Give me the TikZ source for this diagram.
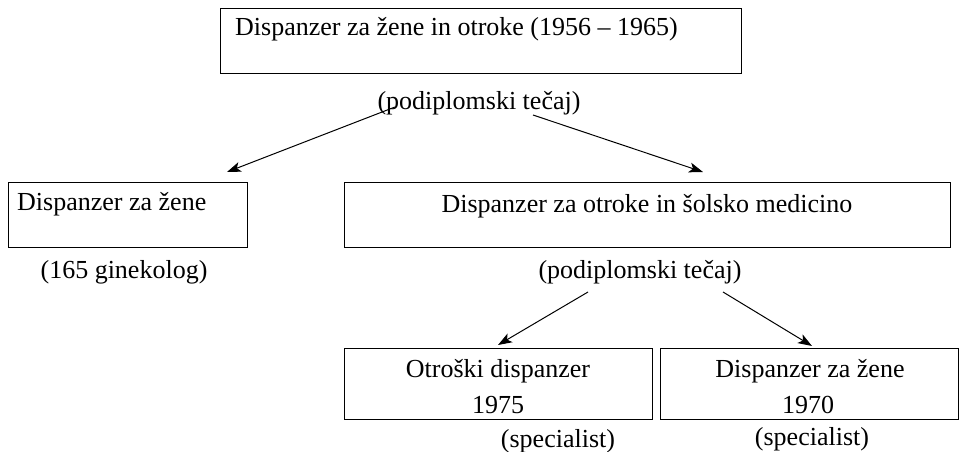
\documentclass[tikz,border=0pt]{standalone}
\usepackage{fontspec}
\setmainfont{Liberation Serif}
\usetikzlibrary{arrows.meta,calc}
\tikzset{
  box/.style={draw=black, line width=0.8pt, inner sep=0pt, anchor=north west},
  txt/.style={inner sep=0pt, font=\fontsize{26}{30}\selectfont},
  arr/.style={line width=1pt, -{Stealth[length=14pt,width=10pt,inset=3.5pt]}}
}
\begin{document}
\begin{tikzpicture}[x=1pt,y=1pt]
\useasboundingbox (0,0) rectangle (959,-452);
% boxes
\node[box, minimum width=521pt, minimum height=65pt] (topbox) at (220,-8) {};
\node[box, minimum width=239pt, minimum height=65pt] (leftbox) at (8,-182) {};
\node[box, minimum width=606pt, minimum height=65pt] (midbox) at (344,-182) {};
\node[box, minimum width=308pt, minimum height=71pt] (blbox) at (344,-348) {};
\node[box, minimum width=298pt, minimum height=71pt] (brbox) at (660,-348) {};
% texts
\node[txt, anchor=base west] (toptxt) at (235,-36) {Dispanzer za žene in otroke (1956 – 1965)};
\node[txt, anchor=base] (pod1) at (479,-110) {(podiplomski tečaj)};
\node[txt, anchor=base west] (lefttxt) at (17,-210) {Dispanzer za žene};
\node[txt, anchor=base] (gin) at (124,-278) {(165 ginekolog)};
\node[txt, anchor=base] (midtxt) at (647,-212) {Dispanzer za otroke in šolsko medicino};
\node[txt, anchor=base] (pod2) at (640,-278) {(podiplomski tečaj)};
\node[txt, anchor=base] (bl1) at (498,-377) {Otroški dispanzer};
\node[txt, anchor=base] (bl2) at (498,-413) {1975};
\node[txt, anchor=base] (br1) at (810,-377) {Dispanzer za žene};
\node[txt, anchor=base] (br2) at (808,-413) {1970};
\node[txt, anchor=base] (spec1) at (558,-447) {(specialist)};
\node[txt, anchor=base] (spec2) at (812,-445) {(specialist)};
% arrows
\draw[arr] ($(pod1.base)+(-84,3)$) -- ($(leftbox.north west)+(219,10)$);
\draw[arr] ($(pod1.base)+(54,-5)$) -- ($(midbox.north west)+(359,10)$);
\draw[arr] ($(pod2.base)+(-52,-14)$) -- ($(blbox.north west)+(154,3)$);
\draw[arr] ($(pod2.base)+(83,-14)$) -- ($(brbox.north west)+(152,2)$);
\end{tikzpicture}
\end{document}
